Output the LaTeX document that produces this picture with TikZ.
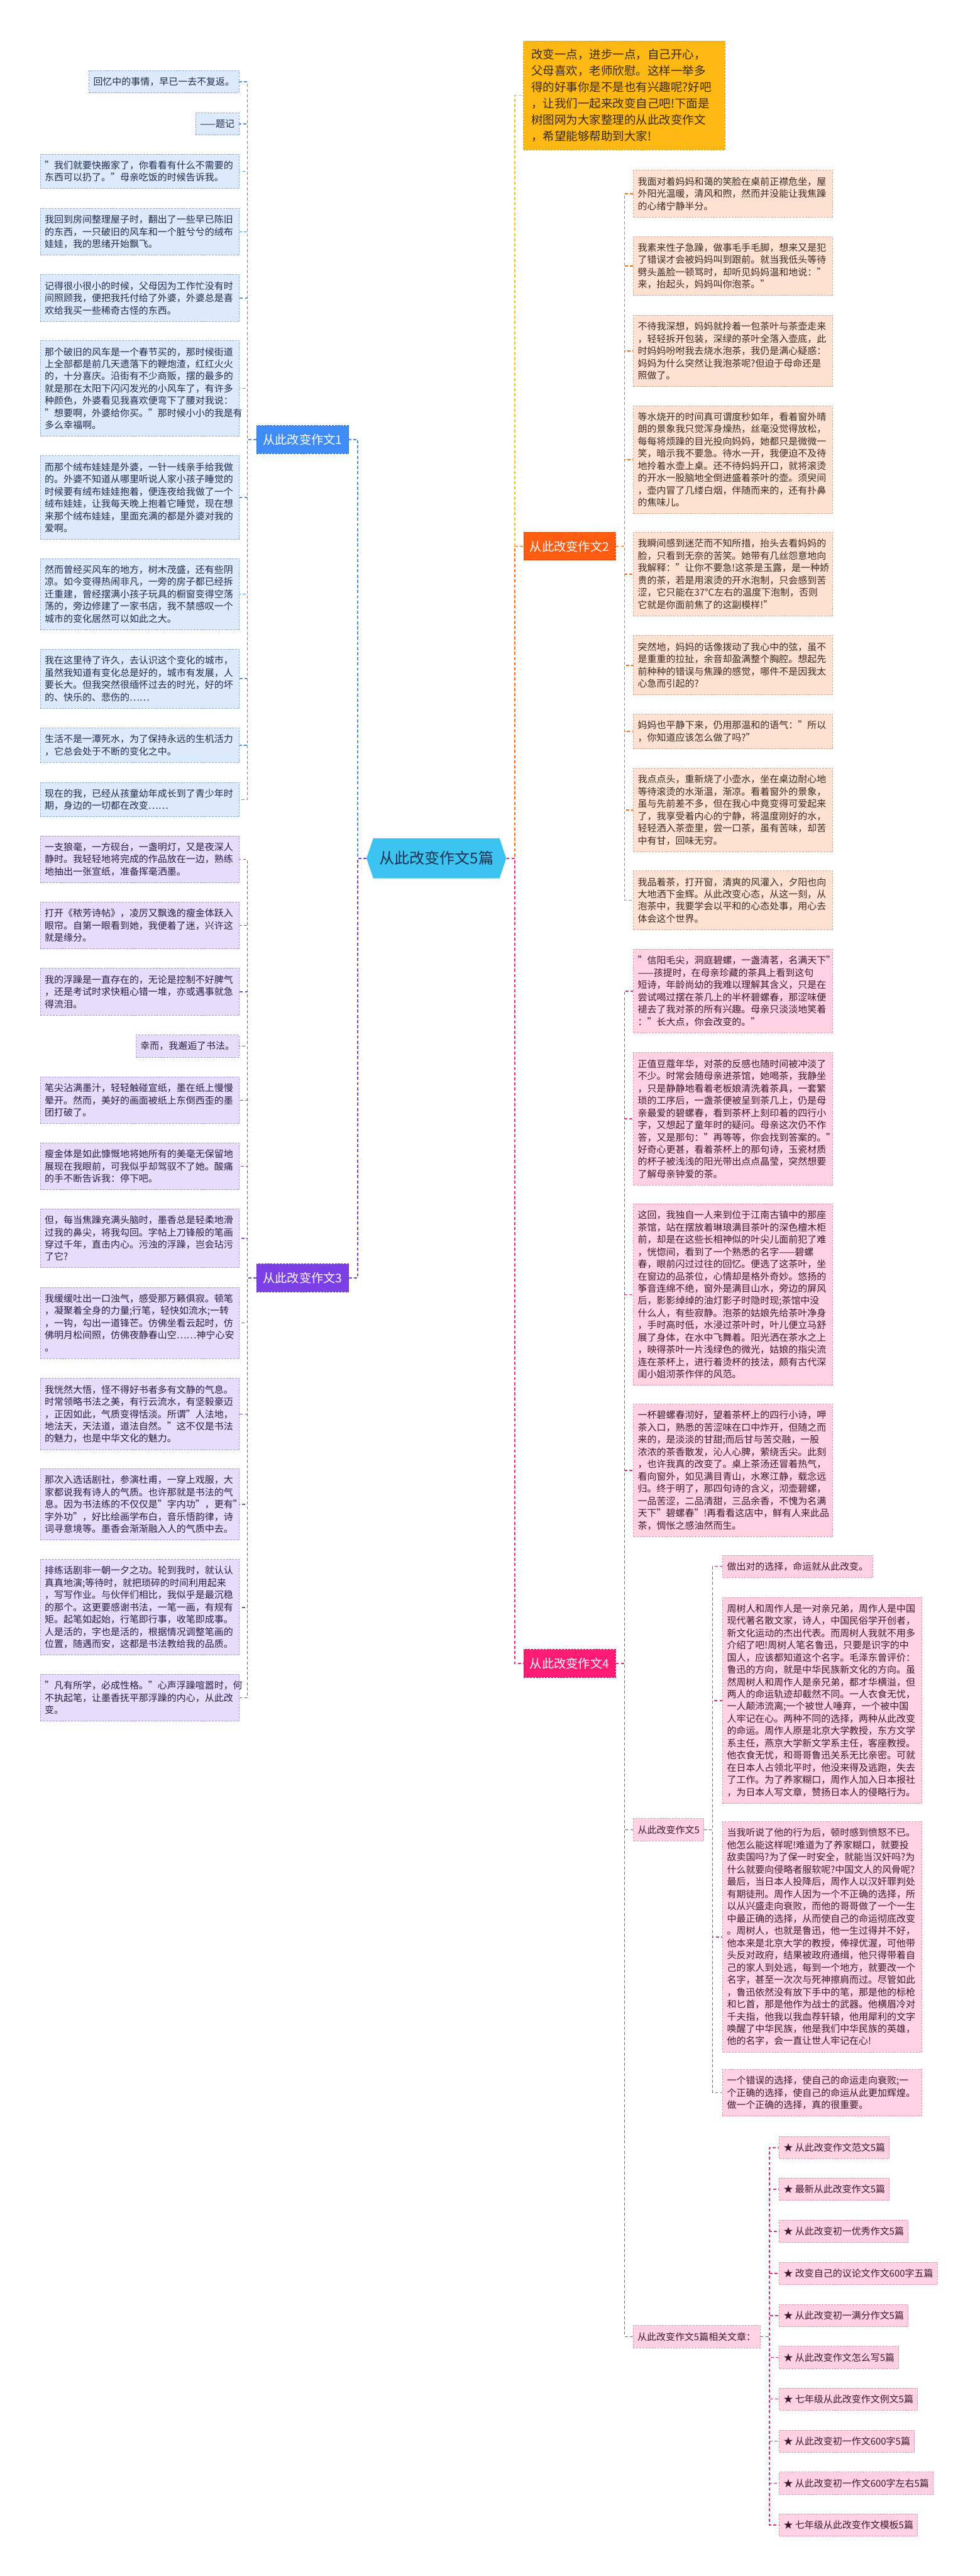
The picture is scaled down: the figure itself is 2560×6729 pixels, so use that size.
\documentclass[tikz,border=0pt]{standalone}
\usepackage{fontspec}
\setmainfont{Noto Sans CJK SC}
\usepackage{xcolor}
\usepackage{tikz}
\usetikzlibrary{shapes.symbols}

\definecolor{blueMain}{HTML}{3F8CF6}
\definecolor{blueFill}{HTML}{DCEAFC}
\definecolor{blueEdge}{HTML}{8EA9CF}
\definecolor{blueText}{HTML}{1D2B50}
\definecolor{blueLine}{HTML}{4A90F0}
\definecolor{purpleMain}{HTML}{7B3FE6}
\definecolor{purpleFill}{HTML}{E7DDFA}
\definecolor{purpleEdge}{HTML}{A897CC}
\definecolor{purpleText}{HTML}{2B1A47}
\definecolor{purpleLine}{HTML}{7B45E0}
\definecolor{orangeMain}{HTML}{FF5C12}
\definecolor{orangeFill}{HTML}{FDE1D1}
\definecolor{orangeEdge}{HTML}{D3A892}
\definecolor{orangeText}{HTML}{3B2A22}
\definecolor{orangeLine}{HTML}{FF6A1A}
\definecolor{pinkMain}{HTML}{FF1A73}
\definecolor{pinkFill}{HTML}{FFD1E3}
\definecolor{pinkEdge}{HTML}{D895AE}
\definecolor{pinkText}{HTML}{3A1A2A}
\definecolor{pinkLine}{HTML}{E8326F}
\definecolor{rootFill}{HTML}{3CC4F1}
\definecolor{rootText}{HTML}{1B3050}
\definecolor{headFill}{HTML}{FDB814}
\definecolor{headEdge}{HTML}{D89A0A}
\definecolor{headText}{HTML}{3A2C10}
\definecolor{yellowLine}{HTML}{F4C21A}

\tikzset{
	every node/.style={font=\fontsize{14pt}{18.2pt}\selectfont},
	nl/.style={minimum height={#1*6.4mm+5.2mm}},
	leaf/.style={draw=#1Edge, fill=#1Fill, text=#1Text, dash pattern=on 1mm off 0.6mm,
		line width=0.3mm, inner xsep=2.25mm, inner ysep=1mm, align=left},
	wide/.style={text width=99.5mm},
	branch/.style={fill=#1Main, draw=#1Main!75!black, dash pattern=on 1mm off 0.6mm,
		line width=0.3mm, text=white, font=\fontsize{18pt}{22pt}\selectfont,
		minimum width=48mm, minimum height=14.6mm},
	link/.style={draw=#1, line width=0.5mm, dash pattern=on 1.6mm off 1.1mm},
}

\begin{document}
\begin{tikzpicture}[x=0.2mm, y=-0.2mm]
\fill[white] (0,0) rectangle (2560,6729);
\useasboundingbox (0,0) rectangle (2560,6729);

% centre
\node[signal, signal to=west and east, signal pointer angle=143, fill=rootFill, text=rootText,
	font=\fontsize{22.5pt}{27pt}\selectfont, minimum width=73mm, minimum height=21mm] (root) at (1140.5,2242) {从此改变作文5篇};

\node[fill=headFill, draw=headEdge, dash pattern=on 1mm off 0.6mm, line width=0.3mm, text=headText,
	font=\fontsize{17.3pt}{24.3pt}\selectfont, text width=97mm, inner xsep=4.2mm, align=left,
	minimum height=57mm, anchor=north west] (head) at (1367,106) {改变一点，进步一点，自己开心，\\父母喜欢，老师欣慰。这样一举多\\得的好事你是不是也有兴趣呢?好吧\\，让我们一起来改变自己吧!下面是\\树图网为大家整理的从此改变作文\\，希望能够帮助到大家!};

\node[branch=blue] (z1) at (791,1148) {从此改变作文1};
\node[branch=purple] (z3) at (791,3338) {从此改变作文3};
\node[branch=orange] (z2) at (1488.5,1427) {从此改变作文2};
\node[branch=pink] (z4) at (1488.5,4345) {从此改变作文4};

% essay 1
\node[leaf=blue, nl=1, anchor=north east] (a1) at (625,184) {回忆中的事情，早已一去不复返。};
\node[leaf=blue, nl=1, anchor=north east] (a2) at (625,294) {——题记};
\node[leaf=blue, wide, nl=2, anchor=north west] (a3) at (105,402) {"我们就要快搬家了，你看看有什么不需要的\\东西可以扔了。"母亲吃饭的时候告诉我。};
\node[leaf=blue, wide, nl=3, anchor=north west] (a4) at (105,544) {我回到房间整理屋子时，翻出了一些早已陈旧\\的东西，一只破旧的风车和一个脏兮兮的绒布\\娃娃，我的思绪开始飘飞。};
\node[leaf=blue, wide, nl=3, anchor=north west] (a5) at (105,717) {记得很小很小的时候，父母因为工作忙没有时\\间照顾我，便把我托付给了外婆，外婆总是喜\\欢给我买一些稀奇古怪的东西。};
\node[leaf=blue, wide, nl=7, anchor=north west] (a6) at (105,889) {那个破旧的风车是一个春节买的，那时候街道\\上全部都是前几天遗落下的鞭炮渣，红红火火\\的，十分喜庆。沿街有不少商贩，摆的最多的\\就是那在太阳下闪闪发光的小风车了，有许多\\种颜色，外婆看见我喜欢便弯下了腰对我说：\\"想要啊，外婆给你买。"那时候小小的我是有\\多么幸福啊。};
\node[leaf=blue, wide, nl=6, anchor=north west] (a7) at (105,1190) {而那个绒布娃娃是外婆，一针一线亲手给我做\\的。外婆不知道从哪里听说人家小孩子睡觉的\\时候要有绒布娃娃抱着，便连夜给我做了一个\\绒布娃娃，让我每天晚上抱着它睡觉，现在想\\来那个绒布娃娃，里面充满的都是外婆对我的\\爱啊。};
\node[leaf=blue, wide, nl=5, anchor=north west] (a8) at (105,1458) {然而曾经买风车的地方，树木茂盛，还有些阴\\凉。如今变得热闹非凡，一旁的房子都已经拆\\迁重建，曾经摆满小孩子玩具的橱窗变得空荡\\荡的，旁边修建了一家书店，我不禁感叹一个\\城市的变化居然可以如此之大。};
\node[leaf=blue, wide, nl=4, anchor=north west] (a9) at (105,1695) {我在这里待了许久，去认识这个变化的城市，\\虽然我知道有变化总是好的，城市有发展，人\\要长大。但我突然很缅怀过去的时光，好的坏\\的、快乐的、悲伤的……};
\node[leaf=blue, wide, nl=2, anchor=north west] (a10) at (105,1901) {生活不是一潭死水，为了保持永远的生机活力\\，它总会处于不断的变化之中。};
\node[leaf=blue, wide, nl=2, anchor=north west] (a11) at (105,2043) {现在的我，已经从孩童幼年成长到了青少年时\\期，身边的一切都在改变……};

% essay 3
\node[leaf=purple, wide, nl=3, anchor=north west] (c1) at (105,2183) {一支狼毫，一方砚台，一盏明灯，又是夜深人\\静时。我轻轻地将完成的作品放在一边，熟练\\地抽出一张宣纸，准备挥毫洒墨。};
\node[leaf=purple, wide, nl=3, anchor=north west] (c2) at (105,2356) {打开《秾芳诗帖》，凌厉又飘逸的瘦金体跃入\\眼帘。自第一眼看到她，我便着了迷，兴许这\\就是缘分。};
\node[leaf=purple, wide, nl=3, anchor=north west] (c3) at (105,2529) {我的浮躁是一直存在的，无论是控制不好脾气\\，还是考试时求快粗心错一堆，亦或遇事就急\\得流泪。};
\node[leaf=purple, nl=1, anchor=north east] (c4) at (625,2703) {幸而，我邂逅了书法。};
\node[leaf=purple, wide, nl=3, anchor=north west] (c5) at (105,2812) {笔尖沾满墨汁，轻轻触碰宣纸，墨在纸上慢慢\\晕开。然而，美好的画面被纸上东倒西歪的墨\\团打破了。};
\node[leaf=purple, wide, nl=3, anchor=north west] (c6) at (105,2985) {瘦金体是如此慷慨地将她所有的美毫无保留地\\展现在我眼前，可我似乎却驾驭不了她。酸痛\\的手不断告诉我：停下吧。};
\node[leaf=purple, wide, nl=4, anchor=north west] (c7) at (105,3157) {但，每当焦躁充满头脑时，墨香总是轻柔地滑\\过我的鼻尖，将我勾回。字帖上刀锋般的笔画\\穿过千年，直击内心。污浊的浮躁，岂会玷污\\了它?};
\node[leaf=purple, wide, nl=5, anchor=north west] (c8) at (105,3362) {我缓缓吐出一口浊气，感受那万籁俱寂。顿笔\\，凝聚着全身的力量;行笔，轻快如流水;一转\\，一钩，勾出一道锋芒。仿佛坐看云起时，仿\\佛明月松间照，仿佛夜静春山空……神宁心安\\。};
\node[leaf=purple, wide, nl=5, anchor=north west] (c9) at (105,3600) {我恍然大悟，怪不得好书者多有文静的气息。\\时常领略书法之美，有行云流水，有坚毅豪迈\\，正因如此，气质变得恬淡。所谓"人法地，\\地法天，天法道，道法自然。"这不仅是书法\\的魅力，也是中华文化的魅力。};
\node[leaf=purple, wide, nl=5, anchor=north west] (c10) at (105,3836) {那次入选话剧社，参演杜甫，一穿上戏服，大\\家都说我有诗人的气质。也许那就是书法的气\\息。因为书法练的不仅仅是"字内功"，更有"\\字外功"，好比绘画学布白，音乐悟韵律，诗\\词寻意境等。墨香会渐渐融入人的气质中去。};
\node[leaf=purple, wide, nl=7, anchor=north west] (c11) at (105,4073) {排练话剧非一朝一夕之功。轮到我时，就认认\\真真地演;等待时，就把琐碎的时间利用起来\\，写写作业。与伙伴们相比，我似乎是最沉稳\\的那个。这更要感谢书法，一笔一画，有规有\\矩。起笔如起始，行笔即行事，收笔即成事。\\人是活的，字也是活的，根据情况调整笔画的\\位置，随遇而安，这都是书法教给我的品质。};
\node[leaf=purple, wide, nl=3, anchor=north west] (c12) at (105,4373) {"凡有所学，必成性格。"心声浮躁喧嚣时，何\\不执起笔，让墨香抚平那浮躁的内心，从此改\\变。};

% essay 2
\node[leaf=orange, wide, nl=3, anchor=north west] (b1) at (1655,444) {我面对着妈妈和蔼的笑脸在桌前正襟危坐，屋\\外阳光温暖，清风和煦，然而并没能让我焦躁\\的心绪宁静半分。};
\node[leaf=orange, wide, nl=4, anchor=north west] (b2) at (1655,617) {我素来性子急躁，做事毛手毛脚，想来又是犯\\了错误才会被妈妈叫到跟前。就当我低头等待\\劈头盖脸一顿骂时，却听见妈妈温和地说："\\来，抬起头，妈妈叫你泡茶。"};
\node[leaf=orange, wide, nl=5, anchor=north west] (b3) at (1655,823) {不待我深想，妈妈就拎着一包茶叶与茶壶走来\\，轻轻拆开包装，深绿的茶叶全落入壶底，此\\时妈妈吩咐我去烧水泡茶，我仍是满心疑惑：\\妈妈为什么突然让我泡茶呢?但迫于母命还是\\照做了。};
\node[leaf=orange, wide, nl=8, anchor=north west] (b4) at (1655,1059) {等水烧开的时间真可谓度秒如年，看着窗外晴\\朗的景象我只觉浑身燥热，丝毫没觉得放松，\\每每将烦躁的目光投向妈妈，她都只是微微一\\笑，暗示我不要急。待水一开，我便迫不及待\\地拎着水壶上桌。还不待妈妈开口，就将滚烫\\的开水一股脑地全倒进盛着茶叶的壶。须臾间\\，壶内冒了几缕白烟，伴随而来的，还有扑鼻\\的焦味儿。};
\node[leaf=orange, wide, nl=6, anchor=north west] (b5) at (1655,1390) {我瞬间感到迷茫而不知所措，抬头去看妈妈的\\脸，只看到无奈的苦笑。她带有几丝怨意地向\\我解释："让你不要急!这茶是玉露，是一种娇\\贵的茶，若是用滚烫的开水泡制，只会感到苦\\涩，它只能在37°C左右的温度下泡制，否则\\它就是你面前焦了的这副模样!"};
\node[leaf=orange, wide, nl=4, anchor=north west] (b6) at (1655,1660) {突然地，妈妈的话像拨动了我心中的弦，虽不\\是重重的拉扯，余音却盈满整个胸腔。想起先\\前种种的错误与焦躁的感觉，哪件不是因我太\\心急而引起的?};
\node[leaf=orange, wide, nl=2, anchor=north west] (b7) at (1655,1865) {妈妈也平静下来，仍用那温和的语气："所以\\，你知道应该怎么做了吗?"};
\node[leaf=orange, wide, nl=6, anchor=north west] (b8) at (1655,2006) {我点点头，重新烧了小壶水，坐在桌边耐心地\\等待滚烫的水渐温，渐凉。看着窗外的景象，\\虽与先前差不多，但在我心中竟变得可爱起来\\了，我享受着内心的宁静，将温度刚好的水，\\轻轻洒入茶壶里，尝一口茶，虽有苦味，却苦\\中有甘，回味无穷。};
\node[leaf=orange, wide, nl=4, anchor=north west] (b9) at (1655,2274) {我品着茶，打开窗，清爽的风灌入，夕阳也向\\大地洒下金辉。从此改变心态，从这一刻，从\\泡茶中，我要学会以平和的心态处事，用心去\\体会这个世界。};

% essay 4
\node[leaf=pink, wide, nl=6, anchor=north west] (d1) at (1655,2479) {"信阳毛尖，洞庭碧螺，一盏清茗，名满天下"\\——孩提时，在母亲珍藏的茶具上看到这句\\短诗，年龄尚幼的我难以理解其含义，只是在\\尝试喝过摆在茶几上的半杯碧螺春，那涩味便\\褪去了我对茶的所有兴趣。母亲只淡淡地笑着\\："长大点，你会改变的。"};
\node[leaf=pink, wide, nl=10, anchor=north west] (d2) at (1655,2749) {正值豆蔻年华，对茶的反感也随时间被冲淡了\\不少。时常会随母亲进茶馆，她喝茶，我静坐\\，只是静静地看着老板娘清洗着茶具，一套繁\\琐的工序后，一盏茶便被呈到茶几上，仍是母\\亲最爱的碧螺春，看到茶杯上刻印着的四行小\\字，又想起了童年时的疑问。母亲这次仍不作\\答，又是那句："再等等，你会找到答案的。"\\好奇心更甚，看着茶杯上的那句诗，玉瓷材质\\的杯子被浅浅的阳光带出点点晶莹，突然想要\\了解母亲钟爱的茶。};
\node[leaf=pink, wide, nl=14, anchor=north west] (d3) at (1655,3144) {这回，我独自一人来到位于江南古镇中的那座\\茶馆，站在摆放着琳琅满目茶叶的深色檀木柜\\前，却是在这些长相神似的叶尖儿面前犯了难\\，恍惚间，看到了一个熟悉的名字——碧螺\\春，眼前闪过过往的回忆。便选了这茶叶，坐\\在窗边的品茶位，心情却是格外奇妙。悠扬的\\筝音连绵不绝，窗外是满目山水，旁边的屏风\\后，影影绰绰的油灯影子时隐时现;茶馆中没\\什么人，有些寂静。泡茶的姑娘先给茶叶净身\\，手时高时低，水浸过茶叶时，叶儿便立马舒\\展了身体，在水中飞舞着。阳光洒在茶水之上\\，映得茶叶一片浅绿色的微光，姑娘的指尖流\\连在茶杯上，进行着烫杯的技法，颇有古代深\\闺小姐沏茶作伴的风范。};
\node[leaf=pink, wide, nl=10, anchor=north west] (d4) at (1655,3667) {一杯碧螺春沏好，望着茶杯上的四行小诗，呷\\茶入口，熟悉的苦涩味在口中炸开，但随之而\\来的，是淡淡的甘甜;而后甘与苦交融，一股\\浓浓的茶香散发，沁人心脾，萦绕舌尖。此刻\\，也许我真的改变了。桌上茶汤还冒着热气，\\看向窗外，如见满目青山，水寒江静，载念远\\归。终于明了，那四句诗的含义，沏壶碧螺，\\一品苦涩，二品清甜，三品余香，不愧为名满\\天下"碧螺春"!再看看这店中，鲜有人来此品\\茶，惆怅之感油然而生。};
\node[leaf=pink, nl=1, anchor=north west] (z5) at (1655,4750) {从此改变作文5};
\node[leaf=pink, nl=1, anchor=north west] (rel) at (1654,6074) {从此改变作文5篇相关文章：};

% essay 5
\node[leaf=pink, nl=1, anchor=north west] (e1) at (1888,4062) {做出对的选择，命运就从此改变。};
\node[leaf=pink, wide, nl=16, anchor=north west] (e2) at (1888,4172) {周树人和周作人是一对亲兄弟，周作人是中国\\现代著名散文家，诗人，中国民俗学开创者，\\新文化运动的杰出代表。而周树人我就不用多\\介绍了吧!周树人笔名鲁迅，只要是识字的中\\国人，应该都知道这个名字。毛泽东曾评价：\\鲁迅的方向，就是中华民族新文化的方向。虽\\然周树人和周作人是亲兄弟，都才华横溢，但\\两人的命运轨迹却截然不同。一人衣食无忧，\\一人颠沛流离;一个被世人唾弃，一个被中国\\人牢记在心。两种不同的选择，两种从此改变\\的命运。周作人原是北京大学教授，东方文学\\系主任，燕京大学新文学系主任，客座教授。\\他衣食无忧，和哥哥鲁迅关系无比亲密。可就\\在日本人占领北平时，他没来得及逃跑，失去\\了工作。为了养家糊口，周作人加入日本报社\\，为日本人写文章，赞扬日本人的侵略行为。};
\node[leaf=pink, wide, nl=18, anchor=north west] (e3) at (1888,4758) {当我听说了他的行为后，顿时感到愤怒不已。\\他怎么能这样呢!难道为了养家糊口，就要投\\敌卖国吗?为了保一时安全，就能当汉奸吗?为\\什么就要向侵略者服软呢?中国文人的风骨呢?\\最后，当日本人投降后，周作人以汉奸罪判处\\有期徒刑。周作人因为一个不正确的选择，所\\以从兴盛走向衰败，而他的哥哥做了一个一生\\中最正确的选择，从而使自己的命运彻底改变\\。周树人，也就是鲁迅，他一生过得并不好，\\他本来是北京大学的教授，俸禄优渥，可他带\\头反对政府，结果被政府通缉，他只得带着自\\己的家人到处逃，每到一个地方，就要改一个\\名字，甚至一次次与死神擦肩而过。尽管如此\\，鲁迅依然没有放下手中的笔，那是他的标枪\\和匕首，那是他作为战士的武器。他横眉冷对\\千夫指，他我以我血荐轩辕，他用犀利的文字\\唤醒了中华民族，他是我们中华民族的英雄，\\他的名字，会一直让世人牢记在心!};
\node[leaf=pink, wide, nl=3, anchor=north west] (e4) at (1888,5405) {一个错误的选择，使自己的命运走向衰败;一\\个正确的选择，使自己的命运从此更加辉煌。\\做一个正确的选择，真的很重要。};

% related articles
\node[leaf=pink, nl=1, anchor=north west] (s1) at (2036,5580) {★ 从此改变作文范文5篇};
\node[leaf=pink, nl=1, anchor=north west] (s2) at (2036,5689) {★ 最新从此改变作文5篇};
\node[leaf=pink, nl=1, anchor=north west] (s3) at (2036,5799) {★ 从此改变初一优秀作文5篇};
\node[leaf=pink, nl=1, anchor=north west] (s4) at (2036,5909) {★ 改变自己的议论文作文600字五篇};
\node[leaf=pink, nl=1, anchor=north west] (s5) at (2036,6019) {★ 从此改变初一满分作文5篇};
\node[leaf=pink, nl=1, anchor=north west] (s6) at (2036,6128) {★ 从此改变作文怎么写5篇};
\node[leaf=pink, nl=1, anchor=north west] (s7) at (2036,6237) {★ 七年级从此改变作文例文5篇};
\node[leaf=pink, nl=1, anchor=north west] (s8) at (2036,6347) {★ 从此改变初一作文600字5篇};
\node[leaf=pink, nl=1, anchor=north west] (s9) at (2036,6457) {★ 从此改变初一作文600字左右5篇};
\node[leaf=pink, nl=1, anchor=north west] (s10) at (2036,6566) {★ 七年级从此改变作文模板5篇};

% connectors
\draw[link=blueLine] (root.west) -- ++(-23,0) |- (z1.east);
\draw[link=purpleLine] (root.west) -- ++(-23,0) |- (z3.east);
\draw[link=yellowLine] (root.east) -- ++(22,0) |- (head.west);
\draw[link=orangeLine] (root.east) -- ++(22,0) |- (z2.west);
\draw[link=pinkLine] (root.east) -- ++(22,0) |- (z4.west);

\foreach \k in {a1,a2,a3,a4,a5,a6,a7,a8,a9,a10,a11}
	\draw[link=blueLine] (z1.west) -- ++(-24,0) |- (\k.east);
\foreach \k in {c1,c2,c3,c4,c5,c6,c7,c8,c9,c10,c11,c12}
	\draw[link=purpleLine] (z3.west) -- ++(-24,0) |- (\k.east);
\foreach \k in {b1,b2,b3,b4,b5,b6,b7,b8,b9}
	\draw[link=orangeLine] (z2.east) -- ++(23,0) |- (\k.west);
\foreach \k in {d1,d2,d3,d4,z5,rel}
	\draw[link=pinkLine] (z4.east) -- ++(23,0) |- (\k.west);
\foreach \k in {e1,e2,e3,e4}
	\draw[link=pinkLine] (z5.east) -- ++(22,0) |- (\k.west);
\foreach \k in {s1,s2,s3,s4,s5,s6,s7,s8,s9,s10}
	\draw[link=pinkLine] (rel.east) -- ++(24,0) |- (\k.west);
\end{tikzpicture}
\end{document}
